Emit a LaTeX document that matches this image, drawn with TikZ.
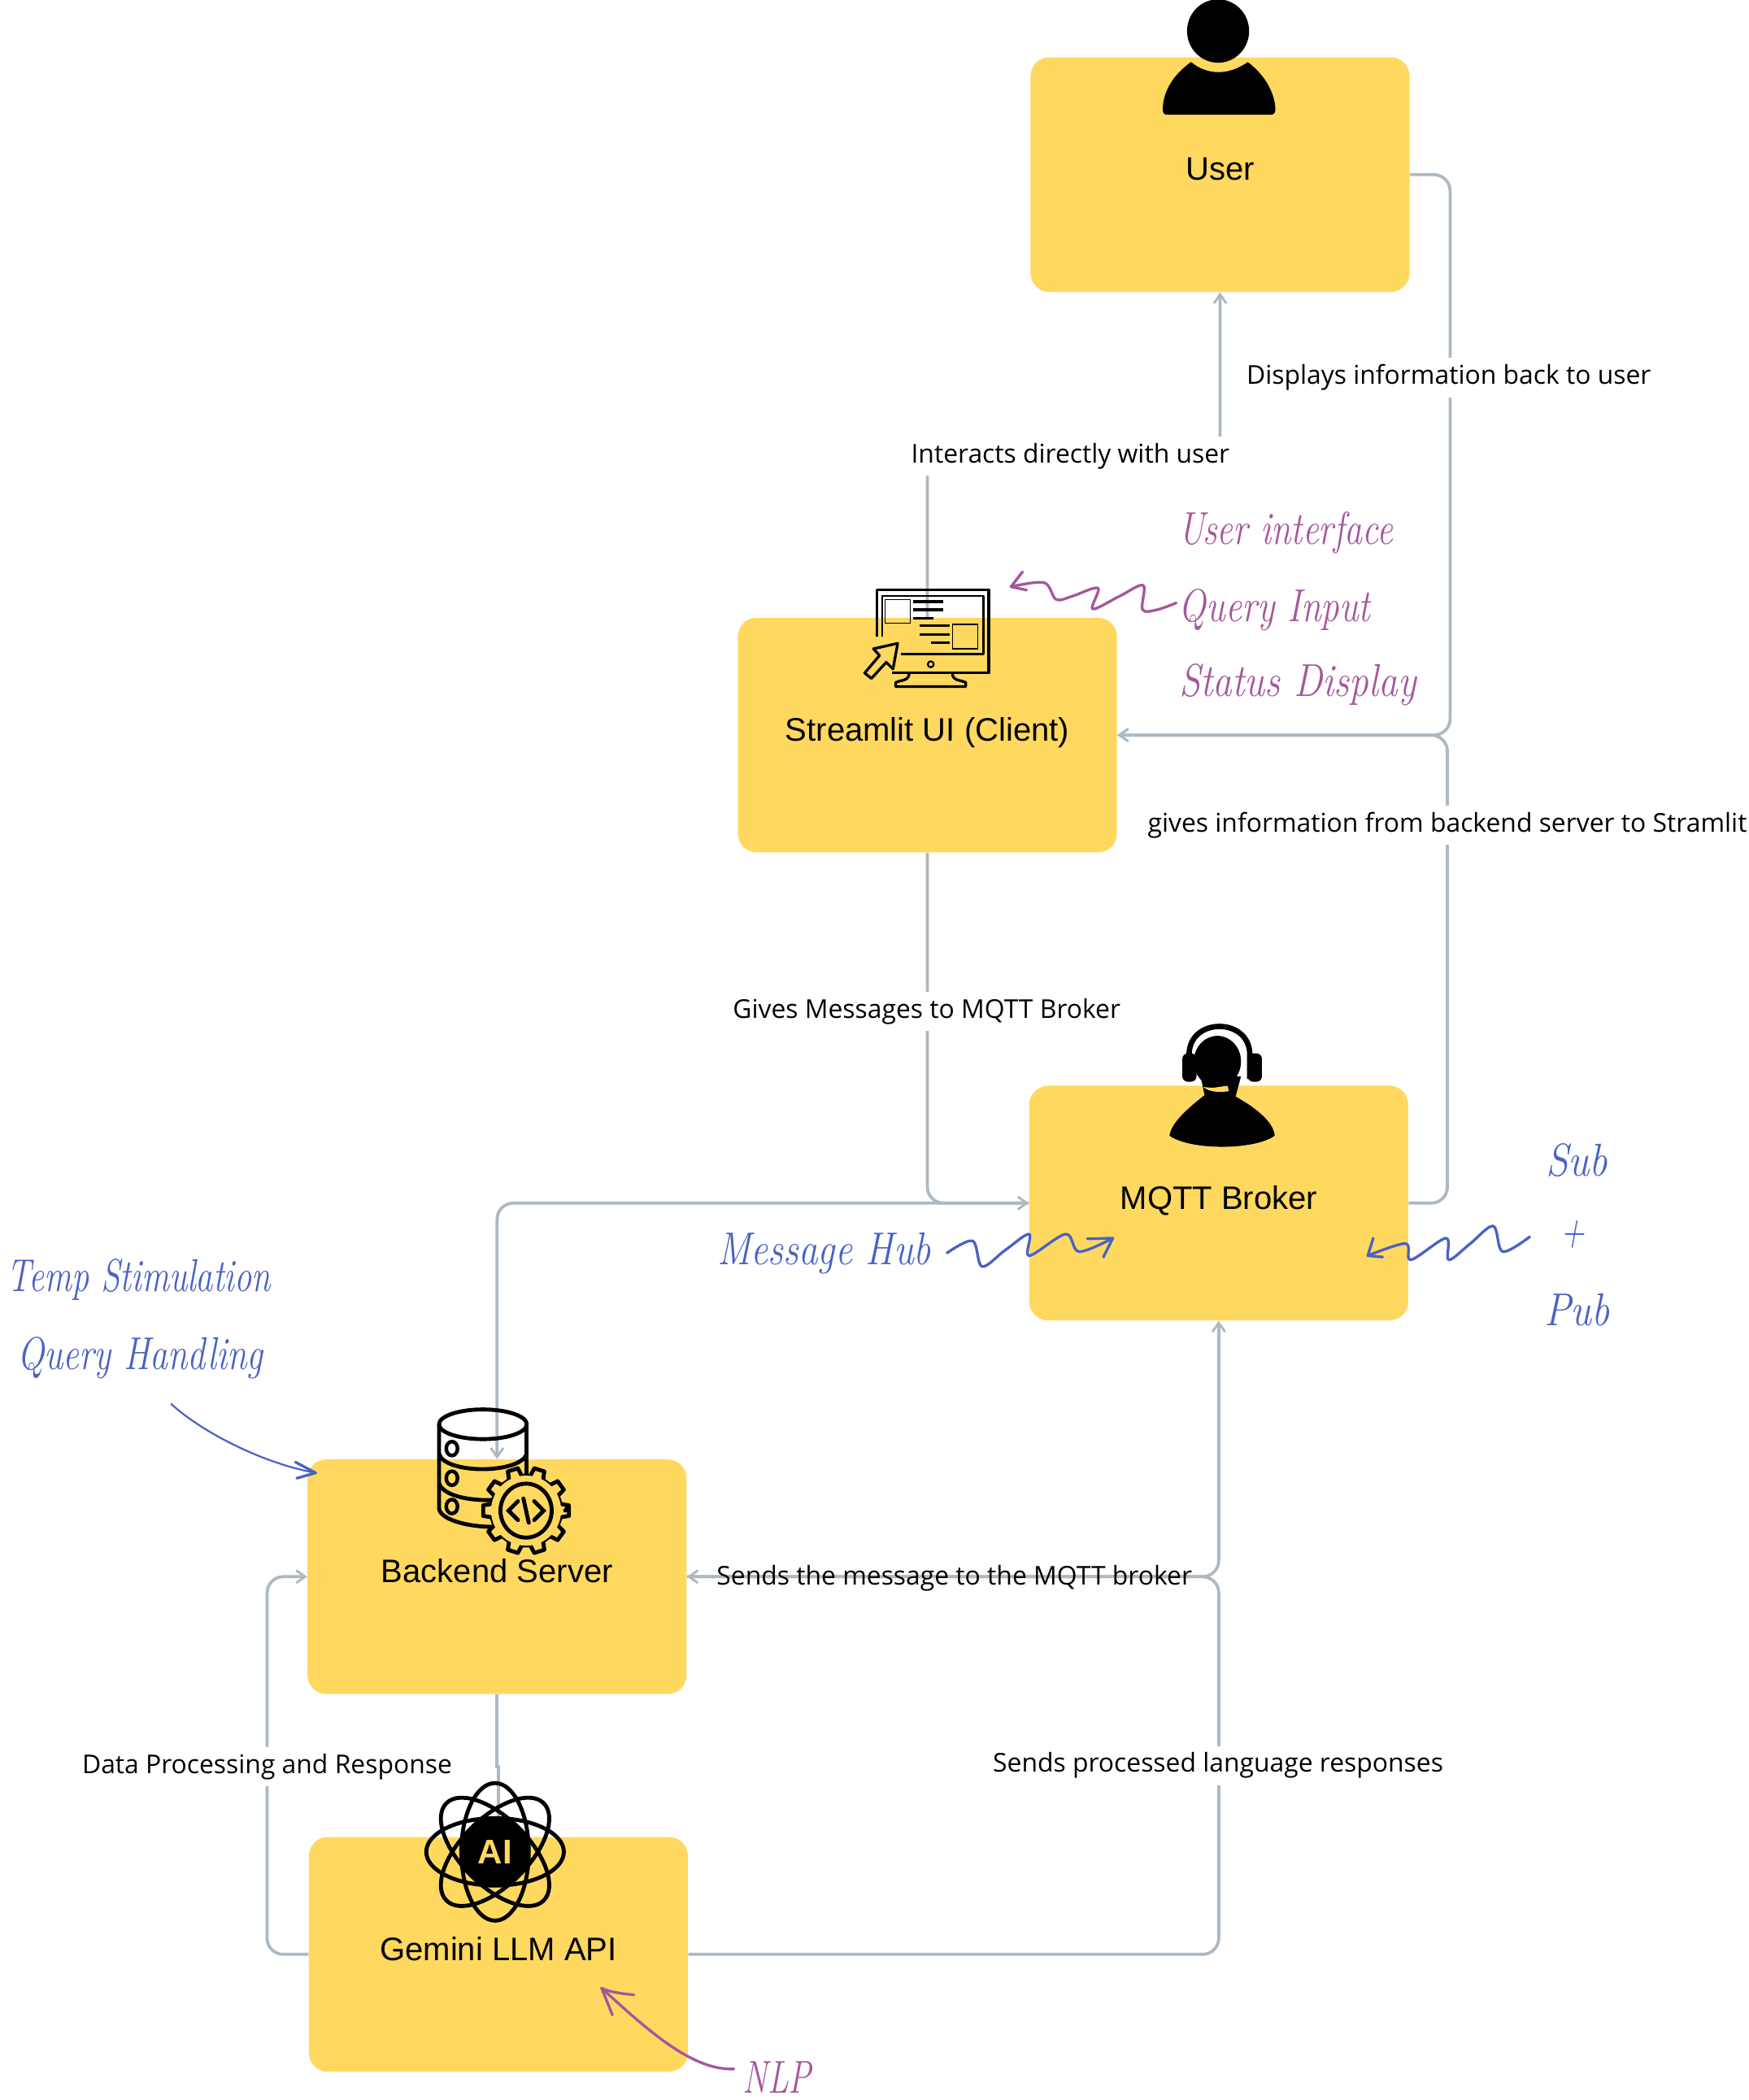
\documentclass[tikz,border=0pt]{standalone}
\usepackage{fontspec}
\usepackage{graphicx}
\setmainfont{Open Sans}
\newfontfamily\boxfont{Liberation Sans}
\newfontfamily\handfont{Latin Modern Roman}
\usetikzlibrary{arrows.meta,calc}
\definecolor{boxyellow}{HTML}{FFD95F}
\definecolor{linegrey}{HTML}{ADB9C2}
\definecolor{notepurple}{HTML}{A5579B}
\definecolor{noteblue}{HTML}{4A62C4}
\newcommand{\hw}[2]{\scalebox{#1}[1.35]{\handfont\itshape #2}}
\tikzset{
  x=.75pt,y=-.75pt,
  boxn/.style={fill=boxyellow,rounded corners=10.5pt,minimum width=210.75pt,minimum height=130.5pt,inner sep=0pt,font=\boxfont\fontsize{18.1}{20}\selectfont},
  wire/.style={draw=linegrey,line width=1.7pt,rounded corners=9pt},
  tip/.style={-{Straight Barb[length=5pt,width=7pt,line width=1.3pt]}},
  lab/.style={fill=white,inner xsep=1pt,inner ysep=0pt,minimum height=21.75pt,font=\fontsize{14.4}{16}\selectfont},
  labnofill/.style={inner sep=0pt,font=\fontsize{14.4}{16}\selectfont},
  notep/.style={text=notepurple,font=\fontsize{19}{22}\selectfont,inner sep=0pt},
  noteb/.style={text=noteblue,font=\fontsize{19}{22}\selectfont,inner sep=0pt},
  squigp/.style={draw=notepurple,line width=1.5pt,line cap=round,line join=round},
  squigb/.style={draw=noteblue,line width=1.5pt,line cap=round,line join=round},
  icon/.style={draw=black,line width=1.5pt,line join=round},
}
\begin{document}
\begin{tikzpicture}
\useasboundingbox (0,0) rectangle (1296,1557);
% boxes
\node[boxn] (user) at (904.5,129.5) {\raisebox{6.5pt}{User}};
\node[boxn] (ui) at (687.5,545) {\raisebox{6.5pt}{Streamlit UI (Client)}};
\node[boxn] (mqtt) at (903.5,892) {\raisebox{6.5pt}{MQTT Broker}};
\node[boxn] (backend) at (368.5,1169) {\raisebox{6.5pt}{Backend Server}};
\node[boxn] (gemini) at (369.5,1449) {\raisebox{6.5pt}{Gemini LLM API}};
% rails
\coordinate (railA) at (1075,545);
\coordinate (railB) at (1073,545);
\coordinate (railC) at (687.5,892);
\coordinate (railD) at (368.5,892);
\coordinate (railE) at (903.5,1169);
\coordinate (railF) at (198,1449);
\coordinate (railG) at (904.5,338);
\coordinate (jog) at (368.5,1310);
% connectors
\draw[wire,tip] (ui.north) -- (ui.north |- railG) -- (railG) -- (user.south);
\draw[wire,tip] (user.east) -- (user.east -| railA) -- (railA) -- (ui.east);
\draw[wire,tip] (mqtt.east) -- (mqtt.east -| railB) -- (railB) -- (ui.east);
\draw[wire,tip] (ui.south) -- (railC) -- (mqtt.west);
\draw[wire,tip] (mqtt.west) -- (railD) -- (backend.north);
\draw[wire,tip] (gemini.east) -- (gemini.east -| railE) -- (railE) -- (backend.east);
\draw[wire,tip] (backend.east) -- (railE) -- (mqtt.south);
\draw[wire,tip] (gemini.west) -- (railF) -- (railF |- backend.west) -- (backend.west);
\draw[wire,sharp corners] (backend.south) -- (jog) -- (jog -| gemini.north) -- (gemini.north);
% connector labels
\node[lab] (l1) at (793.5,338) {Interacts directly with user};
\node[lab] (l2) at (1074,280) {Displays information back to user};
\node[lab] (l3) at (1073,612) {gives information from backend server to Stramlit};
\node[lab] (l4) at (687,750) {Gives Messages to MQTT Broker};
\node[labnofill] (l5) at (707.5,1170) {Sends the message to the MQTT broker};
\node[lab] (l6) at (903,1309) {Sends processed language responses};
\node[lab] (l7) at (198,1310) {Data Processing and Response};
% notes
\node[notep] (n1) at (953,395) {\hw{1.05}{User interface}};
\node[notep] (n2) at (945,452) {\hw{1.07}{Query Input}};
\node[notep] (n3) at (962,508) {\hw{1.13}{Status Display}};
\node[noteb] (n4) at (611,929) {\hw{1.12}{Message Hub}};
\node[noteb] (n5) at (1169,860) {\hw{1.19}{Sub}};
\node[noteb] (n6) at (1166,915) {\hw{.95}{+}};
\node[noteb] (n7) at (1169,971) {\hw{1.17}{Pub}};
\node[noteb] (n8) at (103,949) {\hw{1.01}{Temp Stimulation}};
\node[noteb] (n9) at (104,1007) {\hw{1.05}{Query Handling}};
\node[notep] (n10) at (576,1540) {\hw{1.0}{NLP}};
% squiggles
\draw[squigp] plot[smooth,tension=.55] coordinates {(872,447)(858,452)(847,452)(847.5,434)(830,442)(810,451.5)(814,436)(795,442)(783,444.5)(774,432)(749.5,435)};
\draw[squigp] (758,424) -- (749.5,435) -- (761,437.5);
\draw[squigb] plot[smooth,tension=.55] coordinates {(702,929)(721,920)(728,939)(745,927)(763,915)(763,931)(790,915)(800,928)(825,918)};
\draw[squigb] (806,918.5) -- (825,918) -- (818,932);
\draw[squigb] plot[smooth,tension=.55] coordinates {(1134,917)(1114,928)(1107,909)(1090,922)(1074,934)(1072,918)(1046,934)(1042,922)(1014,931)};
\draw[squigb] (1018,918) -- (1014,931) -- (1025,932);
\draw[squigb,line width=1pt] (127,1041) .. controls (150,1062) and (195,1085) .. (234,1092);
\draw[squigb] (219,1084) -- (234,1092) -- (220,1096);
\draw[squigp] (544,1534) .. controls (515,1535) and (485,1510) .. (446,1474);
\draw[squigp] (470,1479) .. controls (460,1478) and (452,1477) .. (446,1474) -- (454,1494);
% user icon
\fill (903,23) ellipse [x radius=23,y radius=23.5];
\fill (883,46) .. controls (895,56) and (911,56) .. (925,46) .. controls (937,55) and (945,68) .. (945.5,81) .. controls (945.5,84) and (944,85) .. (942,85) -- (865,85) .. controls (863,85) and (862,84) .. (862,81) .. controls (862,68) and (870,55) .. (883,46) -- cycle;
% monitor icon
\begin{scope}
\draw[icon] (650,472) -- (650,437.5) -- (733,437.5) -- (733,499) -- (661,499);
\draw[icon,line width=1.1pt] (654,472) -- (654,442) -- (729,442) -- (729,485) -- (668,485);
\draw[line width=.6pt] (656,444.5) rectangle (675,462) (706,463) rectangle (725,481);
\draw[icon] (677,446) -- (699,446) (677,452) -- (699,452) (677,458.5) -- (692,458.5);
\draw[icon] (682,464) -- (704,464) (682,470.5) -- (704,470.5) (690,476.5) -- (704,476.5);
\draw[line width=1pt] (690,492.5) circle [radius=2.2];
\draw[icon] (665.5,477) -- (647.5,481) -- (652,486) -- (641,499) -- (646,503) -- (657,491) -- (662,496) -- cycle;
\draw[icon] (674,499) .. controls (674,505) and (668,504) .. (664,506) -- (664,509) -- (716,509) -- (716,506) .. controls (712,504) and (706,505) .. (706,499);
\end{scope}
% headset icon
\draw[line width=3pt] (881.5,800) -- (881.5,782) .. controls (881.5,754) and (926.5,754) .. (926.5,782) -- (926.5,800);
\fill[rounded corners=3pt] (876.5,781) rectangle (887,802);
\fill[rounded corners=3pt] (925,781) rectangle (935.5,802);
\fill (902.5,787) ellipse [x radius=17.5,y radius=19];
\fill (867,842) .. controls (868,833) and (880,822) .. (893,812) -- (890,798) -- (920,798) -- (916,813) .. controls (932,822) and (944,832) .. (945,842) .. controls (930,853) and (882,853) .. (867,842) -- cycle;
\fill[boxyellow] (892,806) .. controls (897,810) and (905,810) .. (911,809) -- (910,805) -- (903,806) .. controls (899,807) and (895,806) .. (892,806) -- cycle;
% database icon
\draw[icon,line width=2.2pt] (358,1056) ellipse [x radius=32.5,y radius=11];
\draw[icon,line width=2.2pt] (325.5,1056) -- (325.5,1118) .. controls (325.5,1126) and (345,1132) .. (365,1132);
\draw[icon,line width=2.2pt] (390.5,1056) -- (390.5,1098);
\draw[icon,line width=2.2pt] (325.5,1078) .. controls (330,1093) and (385,1093) .. (390.5,1078);
\draw[icon,line width=2.2pt] (325.5,1100) .. controls (330,1111) and (355,1113) .. (368,1112);
\foreach \hy in {1074,1096,1117}{\draw[line width=2pt] (335,\hy) ellipse [x radius=4.2,y radius=5.2];}
\begin{scope}[shift={(390,1120)}]
\filldraw[fill=boxyellow,draw=black,line width=2.2pt,line join=round]
 (0:29) \foreach \a in {0,36,...,324}{ -- ++(0,0) -- (\a-7:32) -- (\a+7:32) -- (\a+11:26) -- (\a+25:26) -- (\a+29:32)} -- cycle;
\end{scope}
\begin{scope}[shift={(390,1120)}]
\fill[boxyellow] (0,0) circle [radius=26];
\draw[line width=2.2pt] (0,0) ellipse [x radius=19,y radius=20];
\draw[line width=2.2pt,line cap=round] (-6,-7) -- (-13,0) -- (-6,7) (6,-7) -- (13,0) -- (6,7) (-2,-9) -- (2,9);
\end{scope}
% atom icon
\fill (367,1373) circle [radius=26];
\node[inner sep=0pt,text=boxyellow,font=\boxfont\bfseries\fontsize{19}{22}\selectfont] (ai) at (367,1373) {AI};
\foreach \r in {0,45,90,135}{
  \draw[line width=2.2pt,rotate around={\r:(367,1373)}] (367,1373) ellipse [x radius=51,y radius=25];
}
\end{tikzpicture}
\end{document}
